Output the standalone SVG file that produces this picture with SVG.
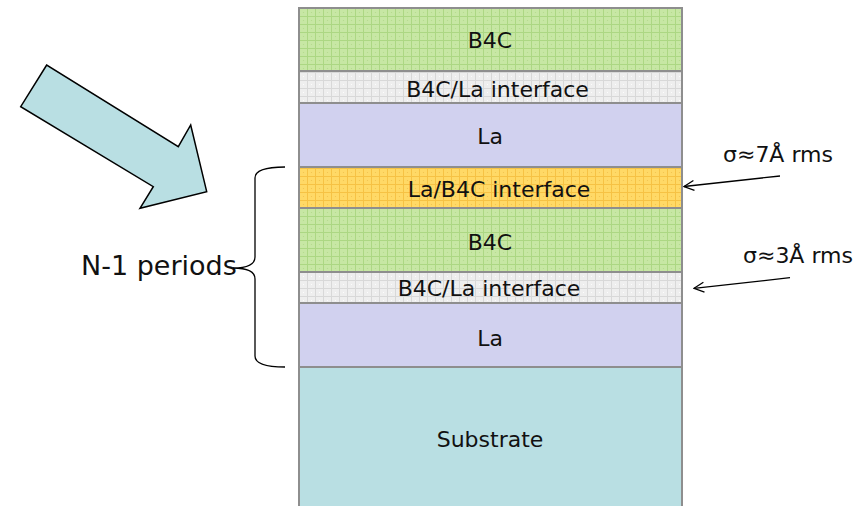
<svg xmlns="http://www.w3.org/2000/svg" width="861" height="506" viewBox="0 0 861 506">
  <defs>
    <pattern id="pGreen" width="8" height="8" patternUnits="userSpaceOnUse" x="299" y="8">
      <rect width="8" height="8" fill="#c7e7a4"/>
      <path d="M0 0.5H8M0.5 0V8" stroke="#acd783" stroke-width="1"/>
      <circle cx="4.5" cy="4.5" r="0.6" fill="#b3db8c"/>
    </pattern>
    <pattern id="pGray" width="8" height="8" patternUnits="userSpaceOnUse" x="299" y="8">
      <rect width="8" height="8" fill="#eeeeee"/>
      <path d="M0 0.5H8M0.5 0V8" stroke="#d8d8d8" stroke-width="1"/>
      <circle cx="4.5" cy="4.5" r="0.6" fill="#ffffff"/>
    </pattern>
    <pattern id="pYellow" width="8" height="8" patternUnits="userSpaceOnUse" x="299" y="8">
      <rect width="8" height="8" fill="#ffd966"/>
      <path d="M0 0.5H8M0.5 0V8" stroke="#f6c244" stroke-width="1"/>
      <circle cx="4.5" cy="4.5" r="0.6" fill="#f2c24e"/>
    </pattern>
    <marker id="openArrow" viewBox="0 0 12 12" refX="11" refY="6" markerWidth="12" markerHeight="12" markerUnits="userSpaceOnUse" orient="auto">
      <path d="M1 1 L11 6 L1 11" fill="none" stroke="#000" stroke-width="1.3"/>
    </marker>
  </defs>
  <style>
    .layer { stroke: #8e8e8e; stroke-width: 2; }
    .lbl { font-family: "DejaVu Sans", Verdana, sans-serif; font-size: 22px; fill: #111; text-anchor: middle; }
    .note { font-family: "DejaVu Sans", Verdana, sans-serif; font-size: 22px; fill: #111; }
    .big { font-size: 27px; }
    .conn { fill: none; stroke: #000; stroke-width: 1.3; }
  </style>
  <rect width="861" height="506" fill="#ffffff"/>

  <g id="stack">
    <g id="substrate">
      <rect class="layer" x="299" y="367" width="383" height="145" fill="#b9dfe3"/>
      <text class="lbl" x="490" y="447">Substrate</text>
    </g>
    <g id="la2">
      <rect class="layer" x="299" y="303" width="383" height="64" fill="#d1d1ef"/>
      <text class="lbl" x="490" y="345.5">La</text>
    </g>
    <g id="interface2">
      <rect class="layer" x="299" y="272" width="383" height="31" fill="url(#pGray)"/>
      <text class="lbl" x="489" y="296">B4C/La interface</text>
    </g>
    <g id="b4c2">
      <rect class="layer" x="299" y="208" width="383" height="64" fill="url(#pGreen)"/>
      <text class="lbl" x="490" y="250">B4C</text>
    </g>
    <g id="interface-la-b4c">
      <rect class="layer" x="299" y="167" width="383" height="41" fill="url(#pYellow)"/>
      <text class="lbl" x="499" y="196.5">La/B4C interface</text>
    </g>
    <g id="la1">
      <rect class="layer" x="299" y="103" width="383" height="64" fill="#d1d1ef"/>
      <text class="lbl" x="490" y="144">La</text>
    </g>
    <g id="interface1">
      <rect class="layer" x="299" y="71" width="383" height="32" fill="url(#pGray)"/>
      <text class="lbl" x="497.5" y="96.5">B4C/La interface</text>
    </g>
    <g id="b4c1">
      <rect class="layer" x="299" y="8" width="383" height="63" fill="url(#pGreen)"/>
      <text class="lbl" x="490" y="48">B4C</text>
    </g>
  </g>

  <g id="incident-arrow">
    <polygon points="46.7,65 20.7,106.7 153.3,186.7 140,208.3 206.7,191.7 190.7,125 178.3,146.7" fill="#b9dfe3" stroke="#000" stroke-width="1.5" stroke-linejoin="miter"/>
  </g>

  <g id="periods-label">
    <text class="note big" x="81" y="275">N-1 periods</text>
  </g>

  <g id="sigma7">
    <text class="note" x="723" y="162">σ≈7Å rms</text>
  </g>
  <g id="sigma3">
    <text class="note" x="743" y="263">σ≈3Å rms</text>
  </g>

  <g id="connectors">
    <path class="conn" d="M285,167 Q255,167 255,178 L255,257 Q255,268 233,268 Q255,268 255,279 L255,356 Q255,367 285,367"/>
    <line class="conn" x1="780" y1="176" x2="684" y2="186.5" marker-end="url(#openArrow)"/>
    <line class="conn" x1="790" y1="277.7" x2="694" y2="288.3" marker-end="url(#openArrow)"/>
  </g>
</svg>
